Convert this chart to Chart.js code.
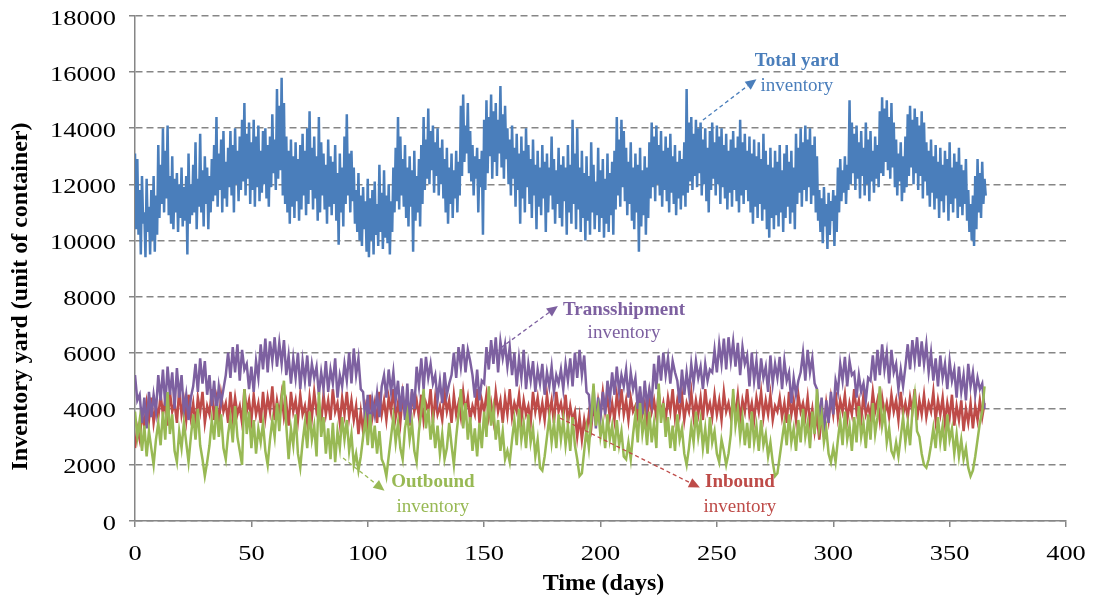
<!DOCTYPE html>
<html><head><meta charset="utf-8">
<script src="https://cdn.jsdelivr.net/npm/chart.js@4.4.1/dist/chart.umd.min.js"></script>
<style>html,body{margin:0;padding:0;background:#fff;}#wrap{width:1094px;height:600px;}</style>
</head><body><div id="wrap"><canvas id="c" width="1094" height="600"></canvas></div>
<script>
// Total yard inventory, two readings per day (day 0, 0.5, 1, ...)
const totalYard = [
13100,10400,12900,10200,11800,9500,12300,10600,11000,9400,12200,10300,11200,9500,11800,10000,12300,9600,11600,10200,
13400,10800,12700,11300,14000,11000,13200,11500,14100,10900,12300,10600,13000,10400,12200,11000,12400,10300,12000,10800,
12600,10500,11900,10700,12300,9500,13100,10600,12000,10900,12700,11000,13500,10400,12200,11200,13800,11000,12500,10500,
13000,11300,12600,10400,12300,11000,12900,11400,13400,11600,14400,11200,13100,11800,13600,11000,13900,11500,12800,11200,
13300,11900,13900,11600,13400,11000,14000,12000,13200,11400,13700,11800,14300,12100,14900,11600,13800,12200,14200,11300,
13500,11800,14300,11200,13700,11900,14100,11400,13200,11700,13900,12000,14000,11500,13400,11200,13700,11900,14500,12400,
13600,11800,15400,12200,14800,12500,15800,11600,14900,11300,13700,11000,13200,10600,13600,11200,13000,10800,13500,11400,
12900,10700,13400,11100,13800,11600,13200,10900,14000,11300,14600,11800,13300,11100,13700,11500,13000,10700,14400,11000,
13500,11600,13100,11100,12700,10600,13600,11200,13000,10900,12800,11300,13400,10700,12400,9850,13100,11000,12600,10500,
13700,11300,14500,11600,13100,11000,13200,11400,12600,10600,11800,10300,12400,10000,11600,9800,11900,10400,11400,9600,
12200,9400,11500,10000,11800,9500,12100,10200,11300,9800,12700,10300,11700,9700,12500,10100,11600,9900,12000,9500,
11400,10300,12600,11000,13300,11400,14400,11100,13700,11600,12900,11200,13400,10800,12600,10500,13000,11200,12500,9600,
13200,10700,12300,11000,12900,10500,13400,11300,14400,11800,13600,12200,14700,12000,13900,12500,14100,11700,13500,12300,
14000,11600,13300,12000,13600,11500,12900,11000,13300,10600,12600,11300,13100,10800,12500,11500,13200,11000,12800,11600,
14800,12300,15200,12800,14100,13100,14900,12400,13900,12100,13400,11600,13000,12200,13300,11000,12900,11900,13200,10200,
14300,11800,15000,12400,14400,13000,15200,12200,14600,12800,14900,12300,14300,13100,15500,12600,14500,12200,14800,12900,
14000,12000,13600,11600,14100,12200,13300,11200,13800,11800,13100,10600,13700,11500,13200,11000,14000,11900,13400,11300,
12900,10800,13600,11600,12700,10400,13200,11200,12600,10900,13400,11500,12800,10300,13100,11000,12600,11600,13700,11100,
12900,10600,12500,11300,13300,10800,12700,10500,13000,11400,12600,10200,13400,11000,12700,10600,14300,11300,13100,10400,
14000,11100,12600,10300,13200,10800,12400,10000,13000,10700,12300,10200,13500,11000,12700,10400,12100,10900,13300,10300,
12500,10800,12900,10100,12200,10600,13100,10300,12400,10900,12800,10200,13200,11100,14400,11600,13600,11200,14300,11900,
13900,11400,13300,10900,12800,11300,13500,10700,12600,10400,13100,11000,12700,9600,13300,10500,12500,10900,13000,10200,
12600,10800,13500,11500,14200,11900,13700,11400,14100,12000,13400,11600,13900,11200,13200,11800,13700,11400,13300,11000,
13800,11700,13000,11300,13400,10900,12800,11500,13200,11100,12900,11600,13500,11200,15400,11700,14200,12100,14400,11800,
13800,12300,14300,11900,14000,12400,14200,11600,13600,12000,14000,11400,13300,11000,13900,11800,14200,12200,13500,11600,
14100,12000,13700,11300,14000,11900,13400,11500,13800,11100,13200,11700,13600,11200,13900,11800,13300,11400,13700,11000,
14300,11600,13500,11300,13800,11800,13200,11400,13700,11000,13100,10600,13600,11200,13000,10800,13500,11300,12900,10700,
13800,11100,13200,10400,12700,10100,13300,10800,12600,10400,13200,10900,12800,10500,13400,11000,12500,10300,13100,10800,
13400,11200,12800,10600,13200,11000,12600,10400,13800,11300,13300,11700,14000,11200,13500,11800,14100,11400,13600,11900,
14000,11300,13400,11600,13700,11000,13000,10700,11800,10300,11500,9900,11900,10500,11300,9700,11700,10200,11400,10700,
11800,9800,11600,10300,12600,11000,12900,11400,12500,11700,13000,11300,12700,11800,15000,12000,14200,12400,13800,11800,
14100,12200,13500,11500,13900,12300,13300,11600,14200,12000,13600,11400,13900,12100,13200,11700,13700,12200,13400,11900,
14600,12400,15100,12300,14700,12800,15000,12500,14400,12200,14900,12600,14200,11900,13600,11600,13100,12100,13500,11400,
13000,11700,13700,11900,14500,12300,14800,12600,14300,12000,14700,12400,14400,11800,14100,12300,14600,11500,14200,12100,
13500,11600,13200,11200,13600,11700,13000,11100,13400,11500,12800,10800,13300,11400,12700,11000,13200,11600,12900,10700,
13500,11300,12600,11000,13100,11500,12800,10800,13300,11200,12700,10900,12500,11300,12900,10700,11800,10300,11300,10000,
11600,9800,12300,10400,12900,11000,12400,10800,12800,11300,12200,11600
];
// Transshipment / inbound / outbound inventory, one reading per day (day 0..365)
const transshipment = [
5200,4300,4500,3500,4400,3300,4600,3700,4500,3900,5200,4300,5400,4100,5500,4500,5300,4000,5450,4400,
5200,3900,4500,3600,4400,4800,5600,4600,5800,4900,5700,4500,5200,4100,5000,3800,4800,4200,4700,5200,
6000,5100,6200,5300,6300,5000,6100,5400,5600,4700,5500,4600,5700,5100,6300,5400,6500,5300,6400,5700,
6550,5500,6350,5600,6450,5200,5900,4900,5800,5100,6000,4700,5700,5000,5900,4800,5600,5100,5500,4500,
5300,4700,5700,4600,5400,4900,5800,4400,5200,4800,5600,5000,6000,4900,6150,5200,5800,4700,4600,3500,
4500,3250,4300,3800,4550,3700,4800,5200,4400,5400,4600,5300,4300,5000,3900,4800,3600,4900,3500,4700,
4000,5500,4800,5800,4700,5850,5100,5600,4900,5200,4300,5000,4200,5300,4500,4900,5200,6000,5100,6200,
5500,6300,5300,6100,5700,5200,4400,5400,4300,5000,4900,6200,5400,6450,5600,6550,5300,6400,5800,6300,
5500,6200,5200,6000,4800,5800,5100,6100,4700,5600,5000,5700,4600,5400,4900,5600,4500,5300,4800,5500,
4600,5200,4900,5400,4700,5600,5000,5800,4800,6000,5100,6100,5200,5900,4600,4500,3500,4800,3300,4400,
3700,4600,3800,5000,4300,5300,4500,5500,4600,5200,4800,5400,4400,5300,4700,5100,4000,4800,3800,5000,
4100,4700,4200,5600,4700,5900,5000,6000,5200,5800,4900,5700,5300,5000,4200,5400,4500,5300,4600,5600,
4900,5700,5100,5500,4700,5600,5000,5400,5300,6100,5300,6300,5600,6500,5400,6550,5700,6400,5500,6350,
5200,6200,5600,5900,4800,6000,5000,5700,4700,5800,5100,5500,4600,5900,4900,5600,5100,5850,4700,5700,
5000,5300,4200,5100,4500,5000,5300,6000,5000,6100,5300,5800,4900,4700,3600,4400,3000,4300,3500,4600,
3800,5000,4600,5600,5000,5850,4800,5700,5200,5300,4400,5200,4600,4900,4300,5100,5000,5900,5000,6100,
5200,6300,5400,6000,4900,6100,5300,5600,4700,5400,4800,5500,6300,5400,6450,5700,6550,5500,6400,5600,
6300,5300,6000,5000,5800,4800,5900,5100,5600,4700,5700,5000,5400,4400,5500,4600,5200,4300,5600,4800,
5300,4500,5100,4700,4900,4000
];
const inbound = [
2600,3300,2900,3800,3400,4200,3600,4400,3500,4100,3700,4500,3800,4300,3400,4600,3900,4200,3500,4700,
3800,4300,3600,4500,3700,4200,3400,4400,3900,4600,3500,4100,3800,4700,3600,4300,3400,4500,3900,4200,
3500,4600,3700,4400,3800,4100,3500,4700,3900,4300,3600,4500,3800,4200,3500,4600,3700,4400,3900,4800,
3600,4300,3800,4500,3700,4200,3400,4600,3900,4300,3600,4500,3800,4100,3500,4400,3700,4600,3900,4200,
3500,4500,3800,4300,3600,4700,3900,4200,3500,4400,3800,4600,3700,4300,3600,4100,3100,3900,3200,4000,
3400,4500,3700,4200,3500,4600,3800,4300,3600,4400,3900,4700,3700,4200,3500,4500,3800,4100,3400,4600,
3900,4300,3700,4500,3600,4200,3900,4700,3500,4400,3800,4100,3600,4600,3900,4300,3500,4500,3800,4200,
3700,4600,3900,4400,3600,4100,3800,4700,3500,4300,3900,4500,3700,4200,3600,4600,3900,4300,3500,4400,
3800,4700,3700,4200,3900,4500,3600,4300,3800,4100,3500,4600,3900,4400,3700,4200,3600,4500,3800,4300,
3500,4600,3900,4200,3700,4500,3500,4100,3600,3900,3000,3700,2900,3600,3100,3800,3300,4100,3600,4300,
3800,4600,3900,4400,3700,4200,3600,4500,3900,4700,3800,4300,3600,4400,3900,4100,3700,4600,3800,4200,
3500,4500,3900,4300,3700,4600,3800,4200,3600,4400,3900,4700,3700,4300,3800,4500,3600,4200,3900,4600,
3700,4300,3800,4400,3600,4700,3900,4200,3700,4500,3800,4300,3600,4600,3900,4200,3700,4400,3800,4500,
3600,4300,3900,4700,3800,4200,3600,4400,3900,4600,3700,4300,3800,4500,3600,4100,3900,4400,3700,4200,
3500,4600,3800,4300,3600,4500,3900,4200,3700,4400,3500,4000,3200,3800,2900,3700,3300,4200,3600,4400,
3800,4600,3700,4300,3900,4500,3600,4200,3800,4700,3900,4300,3600,4500,3800,4100,3700,4600,3900,4300,
3600,4400,3800,4200,3700,4500,3900,4300,3600,4600,3800,4200,3700,4400,3900,4700,3600,4300,3800,4500,
3700,4200,3900,4600,3600,4300,3800,4400,3500,4200,3700,4500,3400,4100,3600,4300,3200,4000,3500,4200,
3300,4100,3600,4300,3700,4200
];
const outbound = [
3900,3000,3600,2500,3400,2300,3200,2600,2000,2900,3500,2700,3900,2900,4600,3100,3800,2500,2100,3200,
2600,3500,2800,2100,3000,3800,2900,4000,2700,2200,1600,2100,2700,3600,2900,4100,3000,3800,2600,2200,
3100,3700,2800,4100,3000,2500,2000,4700,3100,3900,2600,3600,2400,3300,2800,3500,2500,2000,2900,3600,
3000,4200,3200,4400,5000,3400,2200,3300,2700,3800,2400,1900,2800,3500,2600,3900,2900,3400,2300,4600,
3000,3700,2400,3300,2200,3500,2100,3200,2600,3700,2900,3600,2500,3100,2000,2400,1800,2300,3000,3600,
2700,3800,2600,3400,2400,3200,2200,2000,1600,2300,3000,3700,2800,3500,2600,2200,3300,3800,2900,3500,
2500,2100,3200,3900,4700,3300,4000,2900,3600,2600,3400,2400,3100,2200,2600,3500,2700,2000,3000,3800,
4700,3300,4200,2900,3700,2500,3300,2300,3500,2600,3900,3000,4800,3400,4000,2900,3600,2500,3200,2200,
2500,2100,2900,3600,2700,4000,2900,3500,2600,3800,2800,3300,2300,2900,1900,1800,2300,3000,3700,2800,
3500,2600,3800,2900,3600,2700,3400,2500,3700,2700,2200,1600,1700,2500,3300,2600,3600,4900,3400,4000,
3000,3500,2600,3800,2900,3400,2500,3600,2700,3200,2300,2200,2800,2200,3100,3800,2800,4200,3100,3700,
2700,3900,2800,3500,2600,4900,3500,4200,3000,3700,2600,3400,2500,3800,2900,3300,2400,2000,2600,3400,
2800,3900,3000,3600,2600,3300,2400,3700,2800,3200,2400,2100,2900,2500,2000,2400,3100,4700,3400,4000,
3000,3700,2700,3500,2600,3900,2800,3400,2500,3600,2700,3100,2300,2800,2100,1600,1700,2300,2900,3500,
2700,3800,2800,3300,2500,3600,2800,4000,3000,3500,2600,3900,3100,4700,3300,3800,2800,3300,2400,2100,
2600,2100,2900,3600,2700,3900,2900,3400,2500,3700,2800,4100,3000,3500,2600,3800,2900,4200,3100,3700,
4800,3400,3900,2800,3300,2500,2300,2800,2300,3000,3700,2800,3500,2700,3900,4500,3200,3000,2400,2000,
1900,2200,2700,3300,2600,3700,2800,3400,2500,3800,2900,3300,2400,3100,2300,2900,2200,2600,1900,1600,
1800,2300,2900,3500,3900,4800
];
const xTickValues = [0, 50, 100, 150, 200, 250, 300, 350, 400];
const yTickValues = [0, 2000, 4000, 6000, 8000, 10000, 12000, 14000, 16000, 18000];
const totalStepDays = 0.5;
const dailyStepDays = 1;

const FONT = '"Liberation Serif", "Times New Roman", serif';
const AXIS_GREY = '#868686';
const COLORS = { total: '#4A7EBB', trans: '#7D60A0', inbound: '#BE4B48', outbound: '#98B954' };

function toPoints(values, step) { return values.map((v, i) => ({ x: i * step, y: v })); }

// Callout labels, placed in data coordinates
const callouts = [
  { color: COLORS.total, title: 'Total yard', sub: 'inventory', tail: [244, 14290], head: [267, 15750], text: [284.4, 16393], text2: [284.4, 15503] },
  { color: COLORS.trans, title: 'Transshipment', sub: 'inventory', tail: [154.7, 6023], head: [181.7, 7662], text: [210.1, 7520], text2: [210.1, 6700] },
  { color: COLORS.outbound, title: 'Outbound', sub: 'inventory', tail: [89.4, 2245], head: [107.2, 1080], text: [128, 1390], text2: [128, 499] },
  { color: COLORS.inbound, title: 'Inbound', sub: 'inventory', tail: [182.6, 3670], head: [242.7, 1190], text: [259.9, 1390], text2: [259.9, 499] }
];

const calloutPlugin = {
  id: 'callouts',
  afterDatasetsDraw(chart) {
    const { ctx, scales: { x, y } } = chart;
    ctx.save();
    for (const c of callouts) {
      const x1 = x.getPixelForValue(c.tail[0]), y1 = y.getPixelForValue(c.tail[1]);
      const x2 = x.getPixelForValue(c.head[0]), y2 = y.getPixelForValue(c.head[1]);
      const ang = Math.atan2(y2 - y1, x2 - x1);
      const hl = 11, hw = 5;
      const bx = x2 - hl * Math.cos(ang), by = y2 - hl * Math.sin(ang);
      ctx.strokeStyle = c.color; ctx.fillStyle = c.color;
      ctx.lineWidth = 1.3; ctx.setLineDash([4, 3]);
      ctx.beginPath(); ctx.moveTo(x1, y1); ctx.lineTo(bx, by); ctx.stroke();
      ctx.setLineDash([]);
      ctx.beginPath();
      ctx.moveTo(x2, y2);
      ctx.lineTo(bx + hw * Math.sin(ang), by - hw * Math.cos(ang));
      ctx.lineTo(bx - hw * Math.sin(ang), by + hw * Math.cos(ang));
      ctx.closePath(); ctx.fill();
      ctx.textAlign = 'center'; ctx.textBaseline = 'middle';
      ctx.font = 'bold 19px ' + FONT;
      ctx.fillText(c.title, x.getPixelForValue(c.text[0]), y.getPixelForValue(c.text[1]));
      ctx.font = '19px ' + FONT;
      ctx.fillText(c.sub, x.getPixelForValue(c.text2[0]), y.getPixelForValue(c.text2[1]));
    }
    ctx.restore();
  }
};

// Axis tick labels and titles (labels drawn slightly wide, as in the reference)
const axisTextPlugin = {
  id: 'axisText',
  afterDraw(chart) {
    const { ctx, scales: { x, y }, chartArea } = chart;
    ctx.save();
    ctx.fillStyle = '#000';
    ctx.font = '22px ' + FONT;
    ctx.textBaseline = 'alphabetic';
    const stretch = 1.2;
    for (const v of yTickValues) {
      ctx.save();
      ctx.translate(chartArea.left - 19, y.getPixelForValue(v) + 8.5);
      ctx.scale(stretch, 1);
      ctx.textAlign = 'right';
      ctx.fillText(String(v), 0, 0);
      ctx.restore();
    }
    for (const v of xTickValues) {
      ctx.save();
      ctx.translate(x.getPixelForValue(v), chartArea.bottom + 39);
      ctx.scale(stretch, 1);
      ctx.textAlign = 'center';
      ctx.fillText(String(v), 0, 0);
      ctx.restore();
    }
    ctx.font = 'bold 24px ' + FONT;
    ctx.textAlign = 'center';
    ctx.textBaseline = 'middle';
    ctx.fillText('Time (days)', (chartArea.left + chartArea.right) / 2 + 3, chartArea.bottom + 63);
    ctx.save();
    ctx.translate(21, (chartArea.top + chartArea.bottom) / 2 + 28);
    ctx.rotate(-Math.PI / 2);
    ctx.fillText('Inventory yard (unit of container)', 0, 0);
    ctx.restore();
    ctx.restore();
  }
};

const lineDs = (label, values, step, color) => ({
  label, data: toPoints(values, step), borderColor: color, backgroundColor: color,
  borderWidth: 2.5, pointRadius: 0, tension: 0, fill: false, borderJoinStyle: 'miter'
});

new Chart(document.getElementById('c'), {
  type: 'line',
  data: {
    datasets: [
      lineDs('Outbound inventory', outbound, dailyStepDays, COLORS.outbound),
      lineDs('Transshipment inventory', transshipment, dailyStepDays, COLORS.trans),
      lineDs('Inbound inventory', inbound, dailyStepDays, COLORS.inbound),
      lineDs('Total yard inventory', totalYard, totalStepDays, COLORS.total)
    ]
  },
  options: {
    responsive: false, animation: false, devicePixelRatio: 1,
    layout: { padding: { top: 16, right: 28, left: 0, bottom: 0 } },
    plugins: { legend: { display: false }, tooltip: { enabled: false } },
    scales: {
      x: {
        type: 'linear', min: 0, max: 400,
        afterBuildTicks: s => { s.ticks = xTickValues.map(v => ({ value: v })); },
        afterFit: s => { s.height = 79; s.paddingLeft = 0; s.paddingRight = 0; },
        grid: { drawOnChartArea: false, drawTicks: true, tickLength: 6, color: AXIS_GREY, lineWidth: 1.5 },
        border: { color: AXIS_GREY, width: 1.5 },
        ticks: { display: false, padding: 0 },
        title: { display: false }
      },
      y: {
        type: 'linear', min: 0, max: 18000,
        afterBuildTicks: s => { s.ticks = yTickValues.map(v => ({ value: v })); },
        afterFit: s => { s.width = 135; s.paddingTop = 0; s.paddingBottom = 0; },
        grid: { drawTicks: true, tickLength: 6, color: AXIS_GREY, lineWidth: 1.5 },
        border: { color: AXIS_GREY, width: 1.5, dash: [7, 4] },
        ticks: { display: false, padding: 0 },
        title: { display: false }
      }
    }
  },
  plugins: [calloutPlugin, axisTextPlugin]
});
</script></body></html>
